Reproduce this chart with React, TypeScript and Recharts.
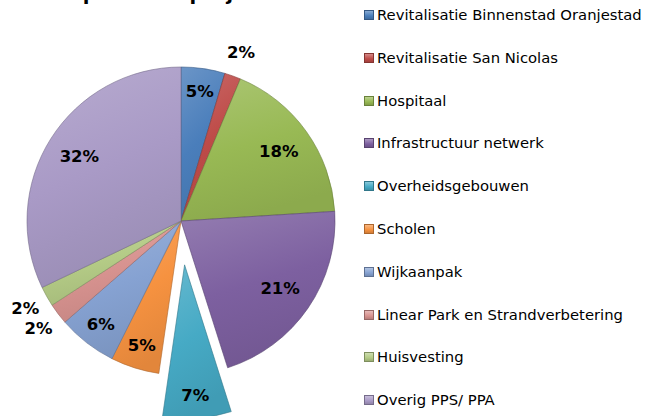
import React from "react";
import { PieChart, Pie, Cell, Legend } from "recharts";

const categories = [
  "Revitalisatie Binnenstad Oranjestad",
  "Revitalisatie San Nicolas",
  "Hospitaal",
  "Infrastructuur netwerk",
  "Overheidsgebouwen",
  "Scholen",
  "Wijkaanpak",
  "Linear Park en Strandverbetering",
  "Huisvesting",
  "Overig PPS/ PPA",
];
const values = [4.6, 1.7, 17.7, 21.1, 7.2, 5.1, 6.2, 2.2, 2.1, 32.1];
const colors = [
  "#4A7EBB",
  "#BE4B48",
  "#98B954",
  "#7D60A0",
  "#46AAC5",
  "#F69240",
  "#86A2D2",
  "#D89390",
  "#B4CB86",
  "#A99AC6",
];
const titleText = "per hoofdproject";
const explodedIndex = 4;

const data = categories.map((name, i) => ({ name, value: values[i] }));

const CX = 181;
const CY = 221;
const R = 154;
const EXPLODE = 44;

function shade(hex: string, amt: number): string {
  const n = parseInt(hex.slice(1), 16);
  let r = (n >> 16) & 255;
  let g = (n >> 8) & 255;
  let b = n & 255;
  const f = (c: number) =>
    Math.round(amt >= 0 ? c + (255 - c) * amt : c * (1 + amt));
  r = f(r);
  g = f(g);
  b = f(b);
  return "#" + ((1 << 24) | (r << 16) | (g << 8) | b).toString(16).slice(1);
}

const total = values.reduce((a, b) => a + b, 0);
const before = values.slice(0, explodedIndex).reduce((a, b) => a + b, 0);
const midFrac = (before + values[explodedIndex] / 2) / total;
const theta = midFrac * 2 * Math.PI;
const exCX = CX + EXPLODE * Math.sin(theta);
const exCY = CY - EXPLODE * Math.cos(theta);

const RAD = Math.PI / 180;

const makeLabel = (only: "main" | "exploded") => (props: any) => {
  const { cx, cy, midAngle, outerRadius, percent, index } = props;
  if (only === "main" && index === explodedIndex) return null;
  if (only === "exploded" && index !== explodedIndex) return null;
  const frac = percent < 0.04 ? 1.16 : percent < 0.12 ? 0.85 : 0.78;
  const rr = outerRadius * frac;
  const x = cx + rr * Math.cos(-midAngle * RAD);
  const y = cy + rr * Math.sin(-midAngle * RAD);
  return (
    <text
      x={x}
      y={y}
      textAnchor="middle"
      dominantBaseline="central"
      fontFamily="Verdana, 'DejaVu Sans', sans-serif"
      fontWeight="bold"
      fontSize={16.5}
      fill="#000"
    >
      {`${Math.round(percent * 100)}%`}
    </text>
  );
};

const renderLegend = () => (
  <div style={{ position: "relative", width: 284, height: 416 }}>
    {categories.map((name, i) => (
      <div
        key={name}
        style={{
          position: "absolute",
          left: 0,
          top: 15 + i * 42.8 - 10,
          height: 20,
          display: "flex",
          alignItems: "center",
          whiteSpace: "nowrap",
        }}
      >
        <span
          style={{
            display: "inline-block",
            width: 8,
            height: 8,
            marginLeft: 4,
            marginRight: 3,
            border: `1px solid ${shade(colors[i], -0.3)}`,
            background: `linear-gradient(${shade(colors[i], 0.35)}, ${colors[i]} 60%, ${shade(colors[i], -0.15)})`,
          }}
        />
        <span
          style={{
            fontFamily: "Verdana, 'DejaVu Sans', sans-serif",
            fontSize: 14.8,
            color: "#000",
            lineHeight: "20px",
          }}
        >
          {name}
        </span>
      </div>
    ))}
  </div>
);

export default function App() {
  return (
    <div
      style={{
        position: "absolute",
        left: 0,
        top: 0,
        width: 646,
        height: 416,
        background: "#fff",
        overflow: "hidden",
      }}
    >
      <div
        style={{
          position: "absolute",
          left: 0,
          width: 350,
          top: -17,
          textAlign: "center",
          fontFamily: "Verdana, 'DejaVu Sans', sans-serif",
          fontWeight: "bold",
          fontSize: 19.5,
          lineHeight: "22px",
          color: "#000",
          zIndex: 2,
        }}
      >
        {titleText}
      </div>
      <PieChart
        width={646}
        height={416}
        margin={{ top: 0, right: 0, bottom: 0, left: 0 }}
      >
        <defs>
          {colors.map((c, i) => (
            <linearGradient key={i} id={`g${i}`} x1="0" y1="0" x2="0.3" y2="1">
              <stop offset="0%" stopColor={shade(c, 0.18)} />
              <stop offset="55%" stopColor={c} />
              <stop offset="100%" stopColor={shade(c, -0.08)} />
            </linearGradient>
          ))}
        </defs>
        <Pie
          data={data}
          dataKey="value"
          nameKey="name"
          cx={CX}
          cy={CY}
          outerRadius={R}
          startAngle={90}
          endAngle={-270}
          isAnimationActive={false}
          labelLine={false}
          label={makeLabel("main")}
          stroke="none"
        >
          {data.map((d, i) => (
            <Cell
              key={d.name}
              fill={i === explodedIndex ? "transparent" : `url(#g${i})`}
              stroke={i === explodedIndex ? "none" : shade(colors[i], -0.3)}
              strokeWidth={0.6}
            />
          ))}
        </Pie>
        <Pie
          data={data}
          dataKey="value"
          nameKey="name"
          cx={exCX}
          cy={exCY}
          outerRadius={R}
          startAngle={90}
          endAngle={-270}
          isAnimationActive={false}
          labelLine={false}
          label={makeLabel("exploded")}
          stroke="none"
        >
          {data.map((d, i) => (
            <Cell
              key={d.name}
              fill={i === explodedIndex ? `url(#g${i})` : "transparent"}
              stroke={i === explodedIndex ? shade(colors[i], -0.3) : "none"}
              strokeWidth={0.6}
            />
          ))}
        </Pie>
        <Legend
          layout="vertical"
          verticalAlign="top"
          align="right"
          content={renderLegend}
          wrapperStyle={{ left: 360, top: 0, width: 284, height: 416 }}
        />
      </PieChart>
    </div>
  );
}
